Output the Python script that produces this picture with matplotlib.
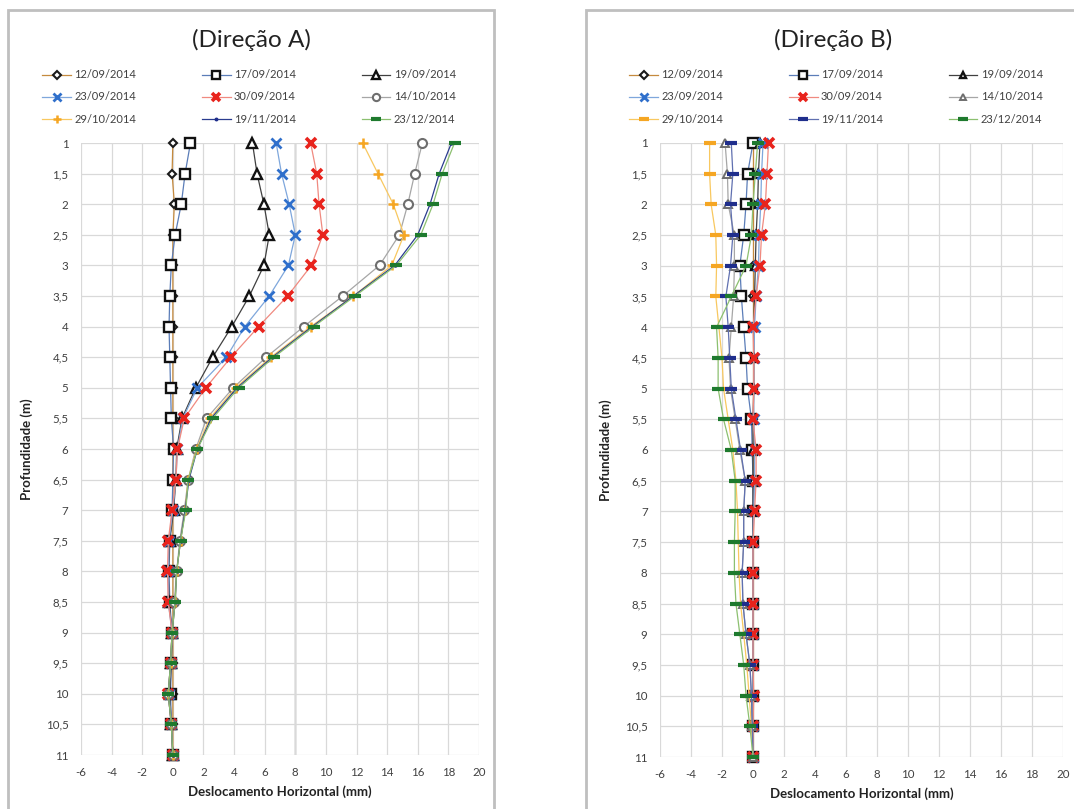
import matplotlib
matplotlib.use("Agg")
import matplotlib.pyplot as plt
from matplotlib.patches import Rectangle

plt.rcParams['font.family'] = ['Lato', 'DejaVu Sans']

depths = [1, 1.5, 2, 2.5, 3, 3.5, 4, 4.5, 5, 5.5, 6, 6.5, 7, 7.5, 8, 8.5, 9, 9.5, 10, 10.5, 11]
depth_labels = ["1", "1,5", "2", "2,5", "3", "3,5", "4", "4,5", "5", "5,5", "6", "6,5",
                "7", "7,5", "8", "8,5", "9", "9,5", "10", "10,5", "11"]
x_ticks = [-6, -4, -2, 0, 2, 4, 6, 8, 10, 12, 14, 16, 18, 20]
dates = ["12/09/2014", "17/09/2014", "19/09/2014", "23/09/2014", "30/09/2014",
         "14/10/2014", "29/10/2014", "19/11/2014", "23/12/2014"]

# Direction A
A_1209 = [0, -0.05, 0.1, 0, 0, 0, 0, 0, 0, 0, 0, 0, 0, 0, 0, 0, 0, 0, 0, 0, 0]
A_1709 = [1.15, 0.8, 0.55, 0.15, -0.1, -0.2, -0.25, -0.2, -0.15, -0.1, 0.05, 0.0, -0.05, -0.2, -0.25, -0.2, -0.05, -0.1, -0.15, -0.1, 0]
A_1909 = [5.2, 5.5, 5.95, 6.3, 5.95, 5.0, 3.85, 2.6, 1.5, 0.6, 0.25, 0.2, 0.05, -0.2, -0.3, -0.25, -0.05, -0.1, -0.2, -0.1, 0]
A_2309 = [6.75, 7.1, 7.6, 8.0, 7.55, 6.3, 4.7, 3.5, 1.6, 0.65, 0.3, 0.2, 0.0, -0.25, -0.3, -0.3, -0.05, -0.15, -0.25, -0.1, 0]
A_3009 = [9.0, 9.4, 9.55, 9.8, 9.05, 7.5, 5.6, 3.8, 2.15, 0.75, 0.3, 0.2, -0.05, -0.3, -0.35, -0.3, -0.05, -0.15, -0.3, -0.1, 0]
A_1410 = [16.3, 15.8, 15.35, 14.8, 13.5, 11.1, 8.55, 6.1, 3.95, 2.2, 1.5, 1.0, 0.75, 0.45, 0.25, 0.1, -0.05, -0.15, -0.3, -0.1, 0]
A_2910 = [12.4, 13.4, 14.4, 15.1, 14.3, 11.8, 9.0, 6.4, 4.1, 2.4, 1.55, 1.0, 0.8, 0.5, 0.25, 0.15, -0.05, -0.15, -0.3, -0.1, 0]
A_1911 = [18.2, 17.4, 16.8, 16.0, 14.5, 11.8, 9.1, 6.5, 4.2, 2.5, 1.6, 1.05, 0.8, 0.5, 0.25, 0.15, -0.05, -0.15, -0.3, -0.1, 0]
A_2312 = [18.4, 17.6, 17.0, 16.2, 14.6, 11.9, 9.2, 6.6, 4.3, 2.6, 1.6, 1.0, 0.85, 0.5, 0.25, 0.15, -0.05, -0.15, -0.3, -0.1, 0]

# Direction B
B_1209 = [0] * 21
B_1709 = [0.0, -0.35, -0.45, -0.6, -0.85, -0.75, -0.6, -0.45, -0.35, -0.1, -0.05, 0, 0, 0, 0, 0, 0, 0, 0, 0, 0]
B_1909 = [0.45, 0.35, 0.3, 0.2, 0.15, 0.1, 0.05, 0.05, 0.05, 0.0, 0, 0, 0, 0, 0, 0, 0, 0, 0, 0, 0]
B_2309 = [0.65, 0.55, 0.5, 0.4, 0.35, 0.2, 0.1, 0.05, 0.05, 0.05, 0.1, 0.1, 0.05, 0, 0, 0, 0, 0, 0, 0, 0]
B_3009 = [1.0, 0.9, 0.8, 0.55, 0.45, 0.2, 0.0, 0.05, 0.05, 0.0, 0.2, 0.2, 0.1, 0, 0, 0, 0, 0, 0.05, 0, 0]
B_1410 = [-1.8, -1.65, -1.6, -1.2, -1.2, -1.25, -1.4, -1.55, -1.45, -1.15, -0.85, -0.5, -0.6, -0.6, -0.7, -0.65, -0.45, -0.2, -0.1, -0.05, 0]
B_2910 = [-2.8, -2.8, -2.7, -2.4, -2.35, -2.4, -2.2, -2.0, -1.9, -1.6, -1.3, -1.1, -1.0, -0.95, -0.9, -0.8, -0.6, -0.4, -0.25, -0.1, 0]
B_1911 = [-1.4, -1.3, -1.45, -1.3, -1.45, -1.75, -1.6, -1.5, -1.4, -1.1, -0.8, -0.5, -0.6, -0.6, -0.7, -0.65, -0.45, -0.2, -0.1, -0.05, 0]
B_2312 = [0.3, 0.15, 0.0, -0.1, -0.45, -1.4, -2.35, -2.25, -2.25, -1.9, -1.4, -1.15, -1.15, -1.2, -1.2, -1.1, -0.85, -0.6, -0.45, -0.2, 0]

seriesA = [A_1209, A_1709, A_1909, A_2309, A_3009, A_1410, A_2910, A_1911, A_2312]
seriesB = [B_1209, B_1709, B_1909, B_2309, B_3009, B_1410, B_2910, B_1911, B_2312]

# styles: (line color, marker, marker edge color, marker face color, ms, mew)
stylesA = [
    ("#C58A3E", "D", "#1a1a1a", "white", 4.5, 1.5),
    ("#5B7DB8", "s", "#111111", "white", 6.5, 1.7),
    ("#404040", "^", "#111111", "white", 6.5, 1.7),
    ("#7FA7DC", "x", "#2F6FCB", "none", 6.5, 2.0),
    ("#F08A80", "x", "#E8231C", "none", 6.5, 2.6),
    ("#A6A6A6", "o", "#6E6E6E", "white", 6.5, 1.5),
    ("#F8C860", "+", "#F5A623", "none", 7.5, 1.8),
    ("#2A3C8F", ".", "#1F2E8C", "#1F2E8C", 4.5, 1.0),
    ("#8CC070", "_", "#1E7A2E", "none", 8.5, 3.0),
]
stylesB = [
    ("#C58A3E", "D", "#1a1a1a", "white", 4.5, 1.5),
    ("#5B7DB8", "s", "#111111", "white", 6.5, 1.7),
    ("#404040", "^", "#111111", "white", 6, 1.7),
    ("#7FA7DC", "x", "#2F6FCB", "none", 6.5, 2.0),
    ("#F08A80", "x", "#E8231C", "none", 6.5, 2.6),
    ("#A6A6A6", "^", "#6E6E6E", "white", 6, 1.4),
    ("#F8C860", "_", "#F5A623", "none", 8.5, 3.0),
    ("#6070B0", "_", "#1F2E8C", "none", 8.5, 3.0),
    ("#8CC070", "_", "#1E7A2E", "none", 8.5, 3.0),
]

W, H = 1074, 809
fig = plt.figure(figsize=(W / 100, H / 100), dpi=100)
fig.patch.set_facecolor("white")

# panel frames (bottom edge just outside the picture)
for (x0, x1) in [(8, 494), (586, 1080)]:
    fig.patches.append(Rectangle((x0 / W, 1 - 815 / H), (x1 - x0) / W, (815 - 10) / H,
                                 transform=fig.transFigure, fill=False,
                                 edgecolor="#BFBFBF", linewidth=2.0))


def make_panel(rect, series, styles, title, frame_cx, darkline, leg_cx):
    ax = fig.add_axes(rect)
    handles = []
    for vals, lab, st in zip(series, dates, styles):
        lc, mk, mec, mfc, ms, mew = st
        h, = ax.plot(vals, depths, color=lc, lw=0.9, marker=mk, markeredgecolor=mec,
                     markerfacecolor=mfc, markersize=ms, markeredgewidth=mew, label=lab,
                     clip_on=False)
        handles.append(h)
    ax.set_xlim(-6, 20)
    ax.set_ylim(11, 1)
    ax.set_xticks(x_ticks)
    ax.set_xticklabels([str(t) for t in x_ticks])
    ax.set_yticks(depths)
    ax.set_yticklabels(depth_labels)
    ax.tick_params(length=0, labelsize=8.3, colors="#404040")
    ax.tick_params(axis="x", pad=9)
    ax.tick_params(axis="y", pad=9)
    ax.grid(True, color="#D9D9D9", lw=0.9)
    ax.set_axisbelow(True)
    if darkline is not None:
        ax.axvline(darkline, color="#8C8C8C", lw=1.0, zorder=0.5)
    for s in ax.spines.values():
        s.set_visible(False)
    ax.set_xlabel("Deslocamento Horizontal (mm)", fontsize=9.5, fontweight="bold",
                  color="#222222", labelpad=5)
    ax.set_ylabel("Profundidade (m)", fontsize=9.5, fontweight="bold",
                  color="#222222", labelpad=9)
    fig.text(frame_cx / W, 1 - 40 / H, title, ha="center", va="center",
             fontsize=17.5, color="#222222")
    order = [0, 3, 6, 1, 4, 7, 2, 5, 8]
    x0 = rect[0] * W
    wpx = rect[2] * W
    hpx = rect[3] * H
    leg = ax.legend([handles[i] for i in order], [dates[i] for i in order], ncol=3,
                    loc="center", bbox_to_anchor=((leg_cx - x0) / wpx, 1 + 46 / hpx),
                    frameon=False, fontsize=8, handlelength=2.6, columnspacing=5.9,
                    handletextpad=0.3, labelspacing=1.0, borderaxespad=0,
                    markerscale=0.8)
    for t in leg.get_texts():
        t.set_color("#404040")
    return ax


axA = make_panel([81 / W, 1 - 755 / H, 398 / W, 612 / H], seriesA, stylesA,
                 "(Direção A)", 251, 8, 249)
axB = make_panel([660 / W, 1 - 757 / H, 403 / W, 614 / H], seriesB, stylesB,
                 "(Direção B)", 833, None, 836)

fig.savefig("out.png", dpi=100)
